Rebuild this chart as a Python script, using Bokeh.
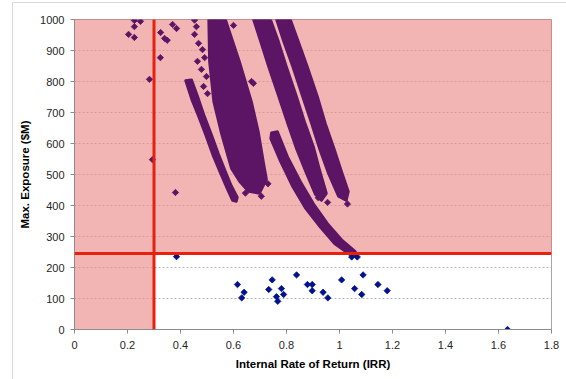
from bokeh.plotting import figure
from bokeh.models import Range1d, FixedTicker, NumeralTickFormatter, Span
from bokeh.embed import file_html
from bokeh.resources import INLINE

# ---------------- data ----------------
x_ticks = [0, 0.2, 0.4, 0.6, 0.8, 1, 1.2, 1.4, 1.6, 1.8]
y_ticks = [0, 100, 200, 300, 400, 500, 600, 700, 800, 900, 1000]

irr_limit = 0.3          # minimum IRR (vertical red line)
exposure_limit = 245     # maximum exposure ($M) (horizontal red line)

# dense clouds of scenarios (outlines of the bands)
band_a_x = [0.419, 0.442, 0.468, 0.494, 0.524, 0.551, 0.577, 0.596, 0.611,
            0.615, 0.592, 0.570, 0.543, 0.517, 0.491, 0.468, 0.442]
band_a_y = [803, 742, 687, 629, 558, 503, 452, 416, 413,
            426, 464, 510, 568, 629, 687, 745, 806]

band_b_x = [0.506, 0.570, 0.623, 0.668, 0.694, 0.713, 0.725, 0.698, 0.657,
            0.623, 0.592, 0.555, 0.525, 0.509]
band_b_y = [1000, 1000, 864, 735, 639, 542, 484, 439, 445,
            477, 519, 629, 735, 864]

band_d_x = [0.675, 0.702, 0.732, 0.770, 0.804, 0.838, 0.875, 0.909, 0.932,
            0.951, 0.925, 0.902, 0.868, 0.838, 0.800, 0.770, 0.740]
band_d_y = [1000, 929, 848, 752, 665, 581, 503, 435, 416,
            439, 516, 590, 671, 752, 848, 929, 1000]

band_e_x = [0.762, 0.789, 0.823, 0.860, 0.894, 0.925, 0.958, 0.996, 1.026,
            1.034, 1.008, 0.981, 0.947, 0.917, 0.879, 0.845, 0.815]
band_e_y = [1000, 929, 848, 752, 665, 581, 503, 429, 416,
            445, 510, 581, 665, 752, 848, 929, 1000]

band_f_x = [0.743, 0.766, 0.804, 0.853, 0.902, 0.955, 1.008, 1.060,
            1.060, 1.038, 0.981, 0.928, 0.872, 0.823, 0.777, 0.740]
band_f_y = [635, 639, 558, 477, 406, 342, 290, 252,
            239, 242, 277, 329, 390, 461, 542, 616]

# isolated scenarios above the exposure limit (purple)
purple_x = [0.204, 0.226, 0.226, 0.226, 0.249, 0.283, 0.294, 0.324, 0.325,
            0.340, 0.350, 0.370, 0.385, 0.381, 0.600, 0.668, 0.675,
            0.453, 0.460, 0.453, 0.468, 0.483, 0.491, 0.464, 0.479, 0.498,
            0.487, 0.502, 0.645, 0.705, 0.730, 0.955, 1.030, 1.015, 0.920,
            1.045, 1.026]
purple_y = [952, 997, 977, 942, 994, 807, 548, 877, 958,
            939, 933, 984, 971, 442, 981, 800, 794,
            998, 977, 952, 923, 903, 877, 865, 839, 816,
            784, 761, 440, 430, 470, 410, 405, 430, 425,
            252, 268]

# scenarios below the exposure limit (blue)
blue_x = [0.385, 0.615, 0.631, 0.640, 0.733, 0.746, 0.762, 0.767, 0.781,
          0.789, 0.838, 0.879, 0.897, 0.897, 0.938, 0.956, 1.008, 1.046,
          1.067, 1.057, 1.089, 1.084, 1.145, 1.180, 1.634]
blue_y = [235, 145, 102, 120, 129, 160, 106, 91, 132,
          113, 176, 145, 145, 125, 120, 102, 160, 234,
          234, 132, 176, 113, 145, 125, 0]

x_min, x_max = 0, 1.8
y_min, y_max = 0, 1000

# ---------------- styles ----------------
PURPLE = "#5c1565"
BLUE = "#00128c"
RED = "#e8200e"
FONT = "Liberation Sans"

p = figure(width=554, height=377,
           x_range=Range1d(x_min, x_max), y_range=Range1d(y_min, y_max),
           output_backend="svg", toolbar_location=None,
           min_border_left=61, min_border_right=16,
           min_border_top=16, min_border_bottom=51)
p.margin = (2, 0, 0, 12)
p.styles = {"border-left": "1px solid #d9d9d9", "border-top": "1px solid #d9d9d9"}

p.background_fill_color = "white"
p.border_fill_color = "white"
p.outline_line_color = "#a6a6a6"

p.xgrid.visible = False
p.ygrid.grid_line_color = "#b4b4b4"
p.ygrid.grid_line_dash = "2 2"
p.ygrid.grid_line_width = 1

p.xaxis.ticker = FixedTicker(ticks=x_ticks)
p.yaxis.ticker = FixedTicker(ticks=y_ticks)
p.xaxis.formatter = NumeralTickFormatter(format="0.[0]")
p.yaxis.formatter = NumeralTickFormatter(format="0")
p.xaxis.axis_label = "Internal Rate of Return (IRR)"
p.yaxis.axis_label = "Max. Exposure ($M)"

for ax in (p.xaxis[0], p.yaxis[0]):
    ax.axis_line_color = "#8c8c8c"
    ax.major_tick_line_color = "#8c8c8c"
    ax.major_tick_out = 4
    ax.major_tick_in = 0
    ax.minor_tick_line_color = None
    ax.major_label_text_font = FONT
    ax.major_label_text_font_size = "11px"
    ax.major_label_text_color = "#262626"
    ax.axis_label_text_font = FONT
    ax.axis_label_text_font_size = "11.5px"
    ax.axis_label_text_font_style = "bold"
    ax.axis_label_text_color = "#000000"
p.yaxis.major_label_standoff = 6
p.xaxis.major_label_standoff = 7
p.yaxis.axis_label_standoff = 6
p.xaxis.axis_label_standoff = 6

# shaded region violating the constraints
shade_x = [x_min, x_min, x_max, x_max, irr_limit, irr_limit]
shade_y = [y_min, y_max, y_max, exposure_limit, exposure_limit, y_min]
p.patch(shade_x, shade_y, fill_color="#ec8c8c", fill_alpha=0.65,
        line_color="#d08080", line_width=1)

# dense clouds
p.patches([band_a_x, band_b_x, band_d_x, band_e_x, band_f_x],
          [band_a_y, band_b_y, band_d_y, band_e_y, band_f_y],
          fill_color=PURPLE, line_color=PURPLE, line_width=2.5,
          line_join="round")

p.scatter(purple_x, purple_y, marker="square", angle=0.785, size=4.5,
          fill_color=PURPLE, line_color=PURPLE, line_width=0.8)
p.scatter(blue_x, blue_y, marker="square", angle=0.785, size=4.5,
          fill_color=BLUE, line_color=BLUE, line_width=0.8)

p.add_layout(Span(location=irr_limit, dimension="height",
                  line_color=RED, line_width=3))
p.add_layout(Span(location=exposure_limit, dimension="width",
                  line_color=RED, line_width=3))

open("out.html", "w").write(file_html(p, INLINE))
